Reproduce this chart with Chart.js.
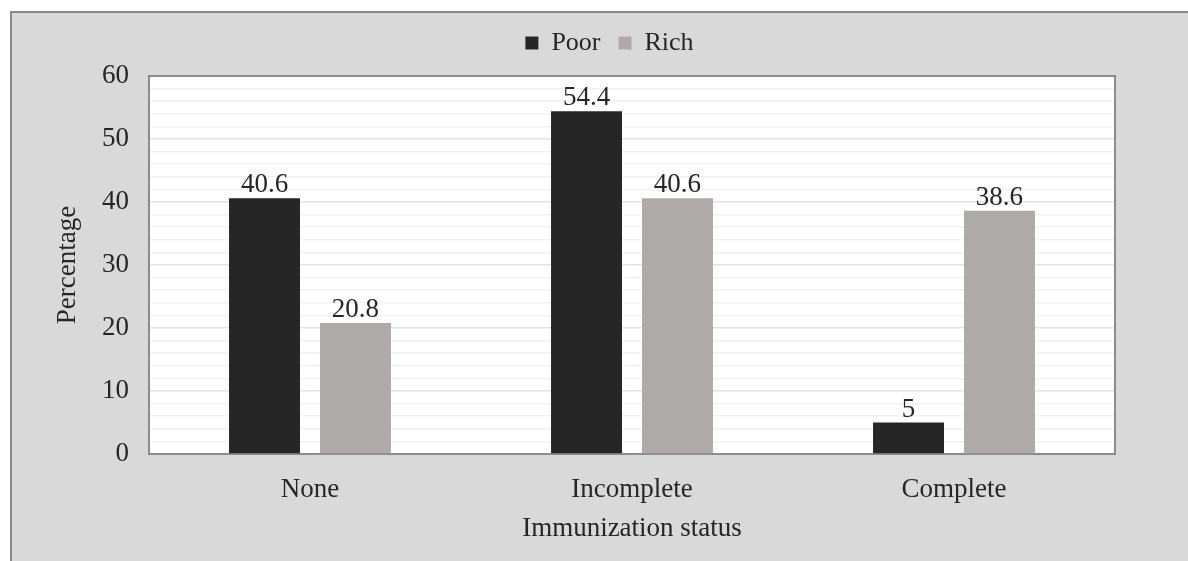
<!DOCTYPE html>
<html>
<head>
<meta charset="utf-8">
<script src="https://cdn.jsdelivr.net/npm/chart.js@4.4.0/dist/chart.umd.min.js"></script>
<style>
  html, body { margin: 0; padding: 0; background: #ffffff; width: 1188px; height: 561px; overflow: hidden; }
  #frame { position: absolute; left: 10px; top: 11px; width: 1178px; height: 550px;
           background: #d9d9d9; border-left: 2px solid #8a8a8a; border-top: 2px solid #8a8a8a; box-sizing: border-box; }
  #wrap { position: absolute; left: 0; top: 0; width: 1188px; height: 561px; }
</style>
</head>
<body>
<div id="frame"></div>
<div id="wrap"><canvas id="c" width="1188" height="561"></canvas></div>
<script>
const categories = ["None", "Incomplete", "Complete"];
const poorValues = [40.6, 54.4, 5];
const richValues = [20.8, 40.6, 38.6];
const seriesNames = ["Poor", "Rich"];
const yTickLabels = [0, 10, 20, 30, 40, 50, 60];

const FONT = "'Liberation Serif', 'Times New Roman', serif";

const plotFrame = {
  id: 'plotFrame',
  beforeLayout(chart) {
    const lg = chart.legend;
    if (lg && !lg._patched) {
      lg._patched = true;
      const origFit = lg.fit;
      lg.fit = function () { origFit.call(this); this.height = 64; };
      const origDraw = lg._draw;
      lg._draw = function () {
        const ctx = this.ctx;
        ctx.save();
        ctx.translate(52, 0);
        origDraw.call(this);
        ctx.restore();
      };
    }
  },
  beforeDraw(chart) {
    const a = chart.chartArea, ctx = chart.ctx;
    ctx.save();
    ctx.fillStyle = '#ffffff';
    ctx.fillRect(a.left, a.top, a.right - a.left, a.bottom - a.top);
    ctx.restore();
  },
  beforeDatasetsDraw(chart) {
    const a = chart.chartArea, ctx = chart.ctx;
    ctx.save();
    ctx.strokeStyle = '#8c8c8c';
    ctx.lineWidth = 2;
    ctx.strokeRect(a.left, a.top, a.right - a.left, a.bottom - a.top);
    ctx.restore();
  }
};

const valueLabels = {
  id: 'valueLabels',
  afterDatasetsDraw(chart) {
    const ctx = chart.ctx;
    ctx.save();
    ctx.font = "27px " + FONT;
    ctx.fillStyle = '#262626';
    ctx.textAlign = 'center';
    ctx.textBaseline = 'alphabetic';
    chart.data.datasets.forEach((ds, i) => {
      chart.getDatasetMeta(i).data.forEach((bar, j) => {
        ctx.fillText(String(ds.data[j]), bar.x, bar.y - 6);
      });
    });
    ctx.restore();
  }
};

new Chart(document.getElementById('c'), {
  type: 'bar',
  data: {
    labels: categories,
    datasets: [
      { label: seriesNames[0], data: poorValues, backgroundColor: '#262626', borderWidth: 0 },
      { label: seriesNames[1], data: richValues, backgroundColor: '#aeaaaa', borderWidth: 0 }
    ]
  },
  options: {
    responsive: false,
    animation: false,
    devicePixelRatio: 1,
    layout: { padding: { left: 0, right: 73, top: 12, bottom: 0 } },
    categoryPercentage: 0.565,
    barPercentage: 0.78,
    plugins: {
      legend: {
        position: 'top',
        labels: {
          font: { family: FONT, size: 26 },
          color: '#262626',
          boxWidth: 13, boxHeight: 13,
          padding: 18
        }
      },
      tooltip: { enabled: false }
    },
    scales: {
      x: {
        grid: { display: false, drawTicks: false },
        border: { display: false },
        ticks: { font: { family: FONT, size: 27 }, color: '#262626', padding: 20 },
        title: { display: true, text: 'Immunization status', font: { family: FONT, size: 27 }, color: '#262626', padding: { top: 4, bottom: 16 } },
        afterFit(scale) { scale.height = 107; }
      },
      y: {
        min: 0, max: 60,
        grid: {
          drawTicks: false,
          color(ctx) { return (ctx.tick && ctx.tick.value % 10 === 0) ? '#e3e3e3' : '#f1f1f1'; },
          lineWidth: 1.5
        },
        border: { display: false },
        ticks: {
          stepSize: 2,
          autoSkip: false,
          font: { family: FONT, size: 27 },
          color: '#262626',
          padding: 20,
          callback(v) { return yTickLabels.includes(v) ? String(v) : ''; }
        },
        title: { display: true, text: 'Percentage', font: { family: FONT, size: 27 }, color: '#262626', padding: { top: 52, bottom: 0 } },
        afterFit(scale) { scale.width = 149; }
      }
    }
  },
  plugins: [plotFrame, valueLabels]
});
</script>
</body>
</html>
